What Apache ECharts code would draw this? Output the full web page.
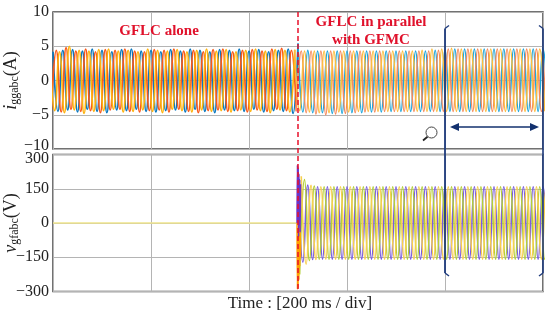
<!DOCTYPE html>
<html><head><meta charset="utf-8">
<style>html,body{margin:0;padding:0;background:#fff}#c{width:550px;height:317px}</style>
<script src="https://cdn.jsdelivr.net/npm/echarts@6/dist/echarts.min.js"></script>
</head><body><div id="c"></div>
<script>
const currentTicks = [-10, -5, 0, 5, 10];
const voltageTicks = [-300, -150, 0, 150, 300];
const divisionMs = 200;
const eventMs = 500;
const zoomWindowMs = [800, 1000];

// turning-point times of each half cycle, ms
const leftMs = [0,10,20,30,40,50,60,70,80,90,100,110,120,130,140,150,160,170,180,190,200,210,220,230,240,250,260,270,280,290,300,310,320,330,340,350,360,370,380,390,400,410,420,430,440,450,460,470,480,490,500];
const rightMs = [500,510,520,530,540,550,560,570,580,590,600,610,620,630,640,650,660,670,680,690,700,710,720,730,740,750,760,770,780,790,800,810,820,830,840,850,860,870,880,890,900,910,920,930,940,950,960,970,980,990,1000,1010];
const currentLagMs = [0, -3.33, -6.67];
const voltageLagMs = [0, 3.33, 6.67];

// GFLC alone: current turning points (A)
const iBlueLeft = [4.2,-4.5,4.4,-4.3,4.5,-4.6,4.3,-4.2,4.6,-4.5,4.4,-4.7,4.2,-4.3,4.5,-4.4,4.6,-4.2,4.3,-4.5,4.4,-4.6,4.2,-4.4,4.5,-4.3,4.3,-4.6,4.6,-4.2,4.4,-4.5,4.2,-4.7,4.5,-4.3,4.4,-4.4,4.6,-4.5,4.3,-4.2,4.5,-4.6,4.2,-4.4,4.4,-4.5,4.6,-4.8,5.4];
const iOrangeLeft = [-4.3,4.4,-4.6,4.8,-4.2,4.3,-4.5,4.6,-4.4,4.2,-4.7,4.5,-4.3,4.4,-4.2,4.6,-4.5,4.3,-4.6,4.2,-4.4,4.5,-4.3,4.4,-4.6,4.6,-4.2,4.3,-4.5,4.4,-4.7,4.2,-4.4,4.5,-4.3,4.6,-4.5,4.2,-4.4,4.4,-4.6,4.5,-4.3,4.3,-4.5,4.6,-4.2,4.7,-4.4,4.4,-4.5];
const iYellowLeft = [4.4,-4.4,4.2,-4.7,5.0,-4.3,4.4,-4.8,4.3,-4.5,4.5,-4.4,4.6,-4.2,4.3,-4.6,4.4,-4.5,4.2,-4.3,4.6,-4.5,4.4,-4.7,4.3,-4.2,4.5,-4.4,4.2,-4.6,4.4,-4.3,4.6,-4.5,4.3,-4.4,4.5,-4.6,4.2,-4.3,4.4,-4.5,4.6,-4.4,4.3,-4.7,4.5,-4.3,4.4,-4.6,4.5];

// GFLC in parallel with GFMC: current turning points (A)
const iBlueRight = [5.4,-4.6,4.4,-4.7,4.3,-4.7,4.3,-4.8,4.3,-4.8,4.3,-4.7,4.3,-4.7,4.3,-4.6,4.3,-4.6,4.3,-4.5,4.3,-4.5,4.3,-4.5,4.3,-4.5,4.3,-4.5,4.4,-4.5,4.5,-4.5,4.6,-4.5,4.6,-4.5,4.6,-4.5,4.6,-4.5,4.6,-4.5,4.6,-4.5,4.6,-4.5,4.6,-4.5,4.6,-4.5,4.6,-4.5];
const iOrangeRight = [-4.5,4.3,-4.7,4.3,-4.9,4.3,-5.0,4.3,-4.9,4.3,-4.8,4.3,-4.7,4.3,-4.6,4.3,-4.6,4.3,-4.5,4.3,-4.5,4.3,-4.5,4.3,-4.5,4.3,-4.5,4.3,-4.5,4.4,-4.5,4.6,-4.5,4.6,-4.5,4.6,-4.5,4.6,-4.5,4.6,-4.5,4.6,-4.5,4.6,-4.5,4.6,-4.5,4.6,-4.5,4.6,-4.5,4.6];
const iYellowRight = [4.5,-4.4,4.3,-4.6,4.3,-4.7,4.3,-4.7,4.3,-4.6,4.3,-4.6,4.3,-4.5,4.3,-4.5,4.3,-4.5,4.3,-4.5,4.3,-4.5,4.3,-4.5,4.3,-4.5,4.4,-4.5,4.6,-4.5,4.6,-4.5,4.7,-4.5,4.6,-4.5,4.6,-4.5,4.6,-4.5,4.6,-4.5,4.6,-4.5,4.6,-4.5,4.6,-4.5,4.6,-4.5,4.6,-4.5];

// voltage before GFMC starts
const vZeroMs = [0, 500];
const vZero = [0, 0];

// voltage turning points (V)
const vPurple = [235,-172,166,-160,159,-158,159,-158,159,-158,159,-158,159,-158,159,-158,159,-158,159,-158,159,-158,159,-158,159,-158,159,-158,159,-158,159,-158,159,-158,159,-158,159,-158,159,-158,159,-158,159,-158,159,-158,159,-158,159,-158,159,-158];
const vGreen = [-225,190,-165,162,-159,159,-158,159,-158,159,-158,159,-158,159,-158,159,-158,159,-158,159,-158,159,-158,159,-158,159,-158,159,-158,159,-158,159,-158,159,-158,159,-158,159,-158,159,-158,159,-158,159,-158,159,-158,159,-158,159,-158,159];
const vYellow = [205,-180,165,-160,159,-158,159,-158,159,-158,159,-158,159,-158,159,-158,159,-158,159,-158,159,-158,159,-158,159,-158,159,-158,159,-158,159,-158,159,-158,159,-158,159,-158,159,-158,159,-158,159,-158,159,-158,159,-158,159,-158,159,-158];

// start-up burst at the instant GFMC is connected
const burstMs = [498,498.8,499.6,500.4,501.2,502,502.8,503.6,504.4,505.2];
const burstOrange = [0,-290,-40,-285,-30,-250,-20,-190,-10,-150];
const burstPurple = [0,255,30,245,-60,215,20,190,-40,170];

const zip = (ts, vs, lag) => vs.map((v, k) => [ts[k] + lag, v]);
const wave = (name, xi, yi, ts, vs, lag, color, width) => ({
  name, type: 'line', xAxisIndex: xi, yAxisIndex: yi, data: zip(ts, vs, lag),
  smooth: 0.5, showSymbol: false, symbol: 'none', silent: true,
  lineStyle: { color, width: width || 1.6 }
});

const SERIF = '"Liberation Serif"';
const chart = echarts.init(document.getElementById('c'), null, { renderer: 'canvas' });

const xAxisBase = {
  type: 'value', min: 0, max: 1000, interval: divisionMs,
  axisLine: { show: false }, axisTick: { show: false }, axisLabel: { show: false },
  splitLine: { show: true, lineStyle: { color: '#b4b4b4', width: 1 } }
};
const yAxisBase = (ticks, labelFn) => ({
  type: 'value', min: ticks[0], max: ticks[ticks.length - 1], interval: ticks[1] - ticks[0],
  axisLine: { show: false }, axisTick: { show: false },
  splitLine: { show: true, lineStyle: { color: '#b4b4b4', width: 1 } },
  nameMoveOverlap: false,
  axisLabel: {
    margin: 4, fontFamily: SERIF, fontSize: 16, color: '#222',
    formatter: labelFn,
    rich: {
      n: { fontFamily: SERIF, fontSize: 16, color: '#222' },
      low: { fontFamily: SERIF, fontSize: 16, color: '#222', padding: [8, 0, 0, 0] },
      up: { fontFamily: SERIF, fontSize: 16, color: '#222', padding: [0, 0, 6, 0] }
    }
  }
});
const nameRich = {
  i: { fontFamily: SERIF, fontSize: 18, fontStyle: 'italic', color: '#222' },
  s: { fontFamily: SERIF, fontSize: 12, color: '#222', padding: [7, 0, 0, 0] },
  n: { fontFamily: SERIF, fontSize: 18, color: '#222' }
};
const fmt = v => String(v).replace('-', '\u2212');

chart.setOption({
  animation: false,
  backgroundColor: '#fff',
  grid: [
    { left: 53, top: 12, width: 490, height: 137, show: true, borderColor: '#444', borderWidth: 1.5, backgroundColor: 'transparent', outerBoundsMode: 'none', containLabel: false },
    { left: 53, top: 154.5, width: 490, height: 137, show: true, borderColor: '#444', borderWidth: 1.5, backgroundColor: 'transparent', outerBoundsMode: 'none', containLabel: false }
  ],
  xAxis: [
    Object.assign({ gridIndex: 0 }, xAxisBase),
    Object.assign({ gridIndex: 1, name: 'Time : [200 ms / div]', nameLocation: 'middle', nameGap: 4, nameMoveOverlap: false,
      nameTextStyle: { fontFamily: SERIF, fontSize: 17, color: '#222', padding: [0, 0, 0, 4] } }, xAxisBase)
  ],
  yAxis: [
    Object.assign({ gridIndex: 0, name: '{i|i}{s|ggabc}{n|(A)}', nameLocation: 'middle', nameRotate: 90, nameGap: 32,
      nameTextStyle: { rich: nameRich } },
      yAxisBase(currentTicks, v => v === -10 ? '{up|' + fmt(v) + '}' : '{n|' + fmt(v) + '}')),
    Object.assign({ gridIndex: 1, name: '{i|v}{s|gfabc}{n|(V)}', nameLocation: 'middle', nameRotate: 90, nameGap: 32,
      nameTextStyle: { rich: nameRich } },
      yAxisBase(voltageTicks, v => v === 300 ? '{low|' + fmt(v) + '}' : '{n|' + fmt(v) + '}'))
  ],
  series: [
    wave('ia alone', 0, 0, leftMs, iBlueLeft, currentLagMs[0], '#0b78bf', 1.7),
    wave('ib alone', 0, 0, leftMs, iOrangeLeft, currentLagMs[1], '#f9591a', 1.7),
    wave('ic alone', 0, 0, leftMs, iYellowLeft, currentLagMs[2], '#fdb310', 1.7),
    wave('ia parallel', 0, 0, rightMs, iBlueRight, currentLagMs[0], '#1fa5dc'),
    wave('ib parallel', 0, 0, rightMs, iOrangeRight, currentLagMs[1], '#f58a5c'),
    wave('ic parallel', 0, 0, rightMs, iYellowRight, currentLagMs[2], '#fbbd3f'),
    wave('v zero', 1, 1, vZeroMs, vZero, 0, '#efe48c', 1.5),
    wave('va', 1, 1, rightMs, vPurple, voltageLagMs[0], '#7a5ce0'),
    wave('vb', 1, 1, rightMs, vGreen, voltageLagMs[1], '#b3cf3a'),
    wave('vc', 1, 1, rightMs, vYellow, voltageLagMs[2], '#f7cf4f'),
    wave('burst o', 1, 1, burstMs, burstOrange, 0, '#ffa000', 1.5),
    wave('burst p', 1, 1, burstMs, burstPurple, 0, '#6a34c8', 1.5)
  ]
});

const xPx = ms => chart.convertToPixel({ xAxisIndex: 0 }, ms);
const yI = v => chart.convertToPixel({ yAxisIndex: 0 }, v);
const yV = v => chart.convertToPixel({ yAxisIndex: 1 }, v);
const NAVY = '#1d3a7c';
const evX = xPx(eventMs), zL = xPx(zoomWindowMs[0]), zR = xPx(zoomWindowMs[1]);
const bTop = yI(7.6), bBot = yV(-219);
const line = (x1, y1, x2, y2, stroke, lineWidth, extra) => ({
  type: 'line', z: 50, silent: true, shape: { x1, y1, x2, y2 },
  style: Object.assign({ stroke, lineWidth, fill: null }, extra || {})
});
const label = (text, x, y) => ({
  type: 'text', z: 60, silent: true, x, y,
  style: { text, font: 'bold 15px ' + SERIF, fill: '#e0112b', align: 'center', verticalAlign: 'middle' }
});
const arrowY = 127;
chart.setOption({
  graphic: { elements: [
    line(evX, 12, evX, 292, '#e8102a', 1.5, { lineDash: [5, 3] }),
    line(zL, bTop, zL, bBot, NAVY, 1.8),
    line(zL, bTop, zL + 4, bTop - 3, NAVY, 1.4),
    line(zL, bBot, zL + 4, bBot + 3, NAVY, 1.4),
    line(zR, bTop, zR, bBot, NAVY, 1.6),
    line(zR, bTop, zR - 4, bTop - 3, NAVY, 1.4),
    line(zR, bBot, zR - 4, bBot + 3, NAVY, 1.4),
    line(zL + 9, arrowY, zR - 7, arrowY, '#12306e', 1.5),
    { type: 'polygon', z: 50, silent: true, shape: { points: [[zL + 5, arrowY], [zL + 14, arrowY - 4], [zL + 14, arrowY + 4]] }, style: { fill: '#12306e' } },
    { type: 'polygon', z: 50, silent: true, shape: { points: [[zR - 4, arrowY], [zR - 13, arrowY - 4], [zR - 13, arrowY + 4]] }, style: { fill: '#12306e' } },
    { type: 'circle', z: 50, silent: true, shape: { cx: 431.5, cy: 132.5, r: 5.5 }, style: { stroke: '#444', lineWidth: 1, fill: '#fff' } },
    line(427.5, 136.8, 423, 140.5, '#222', 1.8),
    label('GFLC alone', 159, 31),
    label('GFLC in parallel', 371, 22),
    label('with GFMC', 371, 40)
  ] }
});
</script></body></html>
